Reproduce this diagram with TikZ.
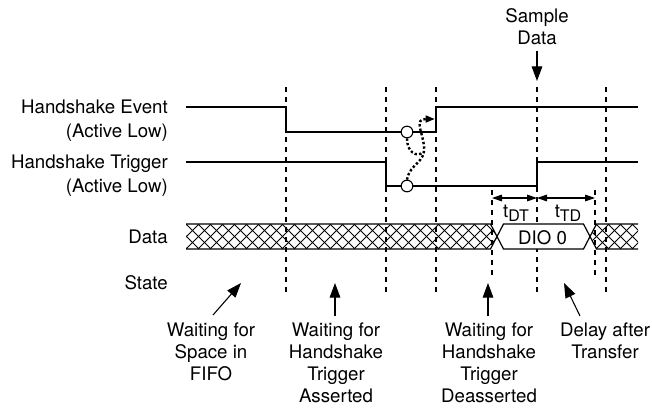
\documentclass[tikz,border=0pt]{standalone}
\usepackage{fontspec}
\setmainfont{TeX Gyre Heros}
\usetikzlibrary{arrows.meta}

\begin{document}
\begin{tikzpicture}[
    x=0.75pt, y=-0.75pt,
    font=\fontsize{14}{18}\selectfont,
    sig/.style={line width=0.9pt},
    guide/.style={line width=0.8pt, dash pattern=on 3.75pt off 3.75pt},
    arrow/.style={-{Triangle[length=11pt, width=8pt]}, line width=0.8pt},
    dim/.style={{Triangle[length=7.5pt, width=5pt]}-{Triangle[length=7.5pt, width=5pt]}, line width=0.8pt},
    cause/.style={-{Triangle[length=7pt, width=5pt]}, line width=1.8pt, dash pattern=on 1.8pt off 1.6pt},
    lbl/.style={align=center, inner sep=0pt, font=\fontsize{14}{16.5}\selectfont},
    signame/.style={anchor=east, align=right, inner sep=0pt},
    ring/.style={circle, draw, fill=white, line width=0.8pt, minimum size=8.75pt, inner sep=0pt},
    hatch/.style={line width=0.6pt}
  ]
  \useasboundingbox (0,0) rectangle (652,408);

  % signal names
  \node[signame] (evname) at (168,121) {Handshake Event\\(Active Low)};
  \node[signame] (trname) at (168,176) {Handshake Trigger\\(Active Low)};
  \node[signame] (dataname) at (168,237) {Data};
  \node[signame] (statename) at (168,283) {State};

  % guides
  \foreach \gx in {286,386,436,537,606}
    \draw[guide] (\gx,87) -- (\gx,295);
  \foreach \gx in {492,595}
    \draw[guide] (\gx,190) -- (\gx,277);

  % data bus, hatched parts
  \begin{scope}
    \clip (186,224) -- (490.5,224) -- (497,236.5) -- (490.5,249) -- (186,249) -- cycle;
    \foreach \hx in {150,162,...,510} {
      \draw[hatch] (\hx,224) -- ++(25,25);
      \draw[hatch] (\hx,249) -- ++(25,-25);
    }
  \end{scope}
  \begin{scope}
    \clip (596.5,224) -- (638,224) -- (638,249) -- (596.5,249) -- (590,236.5) -- cycle;
    \foreach \hx in {560,572,...,650} {
      \draw[hatch] (\hx,224) -- ++(25,25);
      \draw[hatch] (\hx,249) -- ++(25,-25);
    }
  \end{scope}
  \fill[white] (497,236.5) -- (503.5,224) -- (583.5,224) -- (590,236.5) -- (583.5,249) -- (503.5,249) -- cycle;
  \draw[sig] (186,224) -- (490.5,224) -- (503.5,249) -- (583.5,249) -- (596.5,224) -- (638,224);
  \draw[sig] (186,249) -- (490.5,249) -- (503.5,224) -- (583.5,224) -- (596.5,249) -- (638,249);
  \node[inner sep=0pt] (dio) at (542.5,237.5) {DIO 0};

  % waveforms
  \draw[sig] (186,107) -- (286,107) -- (286,132) -- (436,132) -- (436,107) -- (638,107);
  \draw[sig] (186,162) -- (386,162) -- (386,186) -- (537,186) -- (537,162) -- (638,162);
  \node[ring] (ra) at (407,132) {};
  \node[ring] (rb) at (407,186) {};
  \draw[cause] (rb.north) .. controls (410,163) and (426,163) .. (424,146)
    .. controls (422,130) and (414,119) .. (435,119);
  \draw[cause, -] (ra.south) .. controls (407,152) and (416,158) .. (424,152);

  % sample point
  \node[lbl] (smp) at (537,27) {Sample\\Data};
  \coordinate (smptip) at (537,81);
  \draw[arrow] ([shift={(0,6)}]smp.south) -- (smptip);

  % timing
  \coordinate (d0) at (492,198);
  \coordinate (d1) at (537,198);
  \coordinate (d2) at (595,198);
  \draw[dim] (d0) -- (d1);
  \draw[dim] (d1) -- (d2);
  \node[inner sep=0pt] (tdt) at (516,213) {t\raisebox{-0.45ex}{\fontsize{12}{12}\selectfont DT}};
  \node[inner sep=0pt] (ttd) at (568,213) {t\raisebox{-0.45ex}{\fontsize{12}{12}\selectfont TD}};

  % states
  \node[lbl, anchor=north] (fifo) at (211,323) {Waiting for\\Space in\\FIFO};
  \node[lbl, anchor=north] (hsa) at (336,323) {Waiting for\\Handshake\\Trigger\\Asserted};
  \node[lbl, anchor=north] (hsd) at (489,323) {Waiting for\\Handshake\\Trigger\\Deasserted};
  \node[lbl, anchor=north] (dly) at (605,323) {Delay after\\Transfer};
  \coordinate (s1) at (241,283);
  \coordinate (s2) at (335,283);
  \coordinate (s3) at (488,283);
  \coordinate (s4) at (564,283);
  \draw[arrow] ([shift={(2,-8)}]fifo.north) -- (s1);
  \draw[arrow] ([shift={(-1,-7)}]hsa.north) -- (s2);
  \draw[arrow] ([shift={(-1,-7)}]hsd.north) -- (s3);
  \draw[arrow] ([shift={(-25,-7)}]dly.north) -- (s4);
\end{tikzpicture}
\end{document}
